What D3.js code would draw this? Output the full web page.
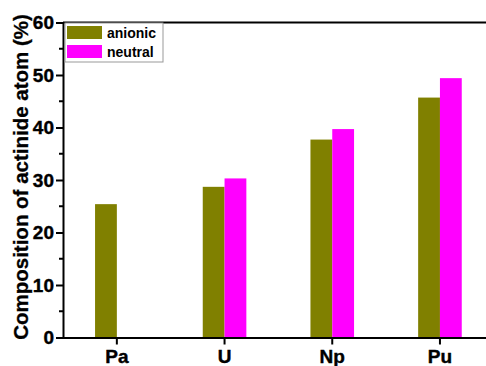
<!DOCTYPE html>
<html>
<head>
<meta charset="utf-8">
<script src="https://cdn.jsdelivr.net/npm/d3@7"></script>
<style>
  body { margin: 0; background: #fff; }
  svg text { font-family: Arial, "Liberation Sans", sans-serif; font-weight: bold; }
</style>
</head>
<body>
<div id="chart"></div>
<script>
// data
var categories = ["Pa", "U", "Np", "Pu"];
var seriesNames = ["anionic", "neutral"];
var anionic = [25.4, 28.7, 37.7, 45.7];
var neutral = [null, 30.3, 39.7, 49.4];
var yTicks = [0, 10, 20, 30, 40, 50, 60];
var yMinorTicks = [5, 15, 25, 35, 45, 55];
var colors = ["#808000", "#ff00ff"];

var W = 486, H = 366;
var margin = {top: 22.5, left: 63, bottom: 28.5};
var step = 107.7;
var height = H - margin.top - margin.bottom;

var svg = d3.select("#chart")
  .append("svg")
    .attr("width", W)
    .attr("height", H);

var g = svg.append("g")
    .attr("transform", "translate(" + margin.left + "," + margin.top + ")");

// X axis (plot runs past the right edge of the picture)
var x = d3.scaleBand()
  .domain(categories)
  .range([0, step * categories.length]);

var y = d3.scaleLinear()
  .domain([0, 60])
  .range([height, 0]);

var barW = 21.8;

var rows = categories.map(function(c, i) {
  return {cat: c, vals: [anionic[i], neutral[i]]};
});

// Bars
rows.forEach(function(r) {
  var cx = x(r.cat) + x.bandwidth() / 2;
  r.vals.forEach(function(v, j) {
    if (v == null) return;
    g.append("rect")
      .attr("x", cx - barW + j * barW)
      .attr("y", y(v))
      .attr("width", barW)
      .attr("height", y(0) - y(v))
      .attr("fill", colors[j]);
  });
});

// top frame line
g.append("line")
  .attr("x1", 0).attr("x2", W)
  .attr("y1", 0).attr("y2", 0)
  .attr("stroke", "#000").attr("stroke-width", 2);

// Y axis
var yAxis = g.append("g")
  .call(d3.axisLeft(y).tickValues(yTicks).tickSize(7).tickPadding(2).tickFormat(d3.format("d")));
yAxis.select(".domain").attr("stroke-width", 2);
yAxis.selectAll(".tick line").attr("stroke-width", 2);
yAxis.selectAll("text")
  .style("font-size", "19px")
  .attr("fill", "#000").attr("stroke", "#000").attr("stroke-width", 0.4);

g.selectAll(".minor")
  .data(yMinorTicks)
  .enter()
  .append("line")
    .attr("x1", -4).attr("x2", 0)
    .attr("y1", function(d) { return y(d); })
    .attr("y2", function(d) { return y(d); })
    .attr("stroke", "#000").attr("stroke-width", 2);

// X axis
var xAxis = g.append("g")
  .attr("transform", "translate(0," + height + ")")
  .call(d3.axisBottom(x).tickSize(7).tickPadding(5).tickSizeOuter(0));
xAxis.select(".domain").attr("stroke-width", 2);
xAxis.selectAll(".tick line").attr("stroke-width", 2);
xAxis.selectAll("text")
  .style("font-size", "19px")
  .attr("fill", "#000").attr("stroke", "#000").attr("stroke-width", 0.4);

// Y label
svg.append("text")
  .attr("transform", "translate(28,177) rotate(-90)")
  .attr("text-anchor", "middle")
  .style("font-size", "20.5px")
  .attr("stroke", "#000").attr("stroke-width", 0.3)
  .text("Composition of actinide atom (%)");

// Legend
var leg = svg.append("g").attr("transform", "translate(65,23)");
leg.append("rect")
  .attr("width", 98).attr("height", 39)
  .attr("fill", "#fff")
  .attr("stroke", "#999").attr("stroke-width", 1);
seriesNames.forEach(function(s, i) {
  leg.append("rect")
    .attr("x", 2).attr("y", 3 + i * 19)
    .attr("width", 35).attr("height", 13)
    .attr("fill", colors[i]);
  leg.append("text")
    .attr("x", 42).attr("y", 14.5 + i * 19)
    .style("font-size", "14px")
    .text(s);
});
</script>
</body>
</html>
